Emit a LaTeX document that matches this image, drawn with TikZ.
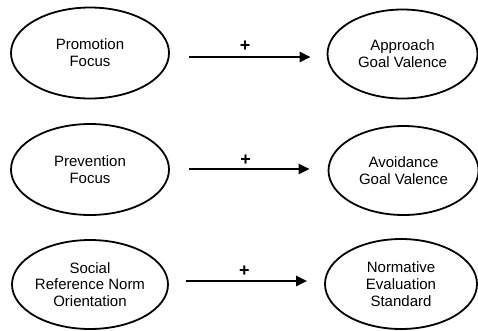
\documentclass[tikz,border=0pt]{standalone}
\usepackage{fontspec}
\setmainfont{Liberation Sans}
\usetikzlibrary{arrows.meta,shapes.geometric}
\begin{document}
\begin{tikzpicture}[x=1pt,y=-1pt,
  every node/.style={font=\fontsize{15}{16.8}\selectfont},
  cause/.style={ellipse,draw,line width=1.8pt,minimum width=158pt,minimum height=91pt,align=center,inner sep=0pt},
  effect/.style={ellipse,draw,line width=1.8pt,minimum width=150pt,minimum height=89pt,align=center,inner sep=0pt},
  link/.style={line width=2.2pt,-{Triangle[length=11pt,width=10pt]}},
  sign/.style={font=\fontsize{18}{18}\bfseries\selectfont,inner sep=2pt}]
\useasboundingbox (0,0) rectangle (478,330);
% left column: regulatory orientations
\node[cause] (pro) at (90,53) {Promotion\\Focus};
\node[cause] (pre) at (90,169.5) {Prevention\\Focus};
\node[cause,minimum width=156pt,minimum height=89pt] (soc) at (90,284.5) {Social\\Reference Norm\\Orientation};
% right column: evaluation outcomes
\node[effect] (app) at (402.5,54) {Approach\\Goal Valence};
\node[effect] (avo) at (403.5,170.5) {Avoidance\\Goal Valence};
\node[effect,minimum width=152pt,minimum height=90pt] (nor) at (401,284) {Normative\\Evaluation\\Standard};
% positive paths
\draw[link,shorten <=19pt,shorten >=16pt] ([yshift=-4pt]pro.east) -- ([yshift=-4pt]pro.east -| app.west)
  node[sign,midway,above=2pt,xshift=-3pt] {+};
\draw[link,shorten <=19pt,shorten >=18pt] ([yshift=0.5pt]pre.east) -- ([yshift=0.5pt]pre.east -| avo.west)
  node[sign,midway,above=0pt,xshift=-3pt] {+};
\draw[link,shorten <=17pt,shorten >=17pt] ([yshift=3.5pt]soc.east) -- ([yshift=3.5pt]soc.east -| nor.west)
  node[sign,midway,above=1pt,xshift=-2pt] {+};
\end{tikzpicture}
\end{document}
